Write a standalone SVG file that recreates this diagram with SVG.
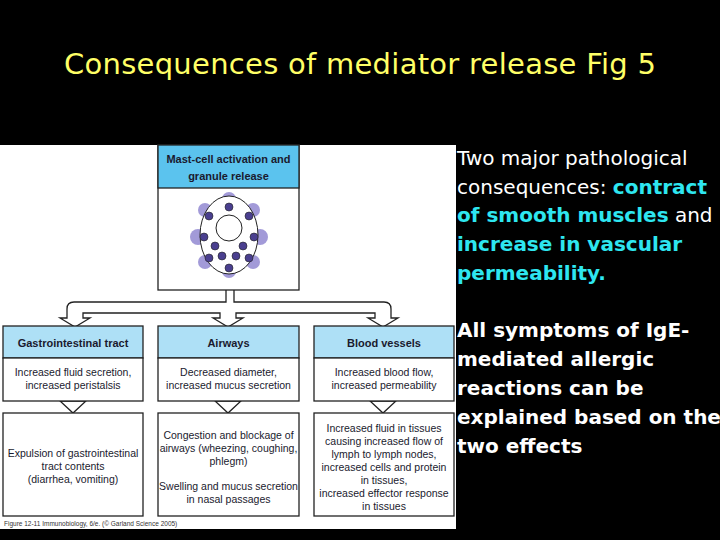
<svg xmlns="http://www.w3.org/2000/svg" width="720" height="540" viewBox="0 0 720 540">
<style>
.bx{fill:#fff;stroke:#222;stroke-width:1.3}
.hd{fill:#5bc3ee;stroke:#222;stroke-width:1.3}
.hl{fill:#aee0f6;stroke:#222;stroke-width:1.3}
.t{font-family:"Liberation Sans",Arial,sans-serif;font-size:10.5px;fill:#1a1a2e;text-anchor:middle}
.h{font-weight:bold;font-size:11px}
.r{font-family:"DejaVu Sans",sans-serif;font-size:20px;fill:#fff}
.c{fill:#2ee6f0;font-weight:bold}
.g{fill:#4a3f8f;stroke:#222;stroke-width:.6}
.halo{fill:#7a6fc8;opacity:.7}
.arr{fill:#fff;stroke:#222;stroke-width:1.3}
</style>
<rect width="720" height="540" fill="#000"/>
<text x="360" y="74" font-family="'DejaVu Sans',sans-serif" font-size="29" fill="#ffff66" text-anchor="middle" textLength="592">Consequences of mediator release Fig 5</text>
<rect x="0" y="145" width="456" height="384" fill="#fff"/>
<g id="connectors">
<path class="arr" d="M226 290 V302 H74 Q67 302 67 309 V318 H60 L75 327 L90 318 H83 V313 H220 V318 H213 L228 327 L243 318 H236 V313 H375 V318 H368 L383 327 L398 318 H391 V309 Q391 302 384 302 H234 V290"/>
<path class="arr" d="M60 401 H86 L73 413 Z"/>
<path class="arr" d="M215 401 H241 L228 413 Z"/>
<path class="arr" d="M370 401 H396 L383 413 Z"/>
</g>
<g id="mast">
<rect class="bx" x="158" y="145" width="141" height="145"/>
<rect class="hd" x="158" y="145" width="141" height="43"/>
<text class="t h" x="228.5" y="163">Mast-cell activation and</text>
<text class="t h" x="228.5" y="180">granule release</text>
<circle class="halo" cx="229" cy="199" r="7"/><circle class="halo" cx="205" cy="210" r="7"/><circle class="halo" cx="253" cy="210" r="7"/>
<circle class="halo" cx="198" cy="237" r="8"/><circle class="halo" cx="260" cy="237" r="8"/><circle class="halo" cx="205" cy="262" r="7"/>
<circle class="halo" cx="253" cy="262" r="7"/><circle class="halo" cx="229" cy="271" r="7"/>
<ellipse cx="229" cy="235" rx="29" ry="39" fill="#fff" stroke="#222" stroke-width="1"/>
<circle cx="229" cy="228" r="13" fill="#fff" stroke="#222" stroke-width="1"/>
<circle class="g" cx="229" cy="207" r="4"/><circle class="g" cx="209" cy="216" r="4"/><circle class="g" cx="249" cy="216" r="4"/>
<circle class="g" cx="204" cy="237" r="4"/><circle class="g" cx="254" cy="237" r="4"/><circle class="g" cx="209" cy="258" r="4"/>
<circle class="g" cx="249" cy="258" r="4"/><circle class="g" cx="229" cy="268" r="4"/>
<circle class="g" cx="215" cy="246" r="4"/><circle class="g" cx="243" cy="246" r="4"/><circle class="g" cx="222" cy="256" r="4"/><circle class="g" cx="236" cy="256" r="4"/>
</g>
<g id="gi">
<rect class="hl" x="3" y="326" width="140" height="32"/>
<text class="t h" x="73" y="347">Gastrointestinal tract</text>
<rect class="bx" x="3" y="358" width="140" height="43"/>
<text class="t" x="73" y="376">Increased fluid secretion,</text>
<text class="t" x="73" y="389">increased peristalsis</text>
<rect class="bx" x="3" y="413" width="140" height="103"/>
<text class="t" x="73" y="457">Expulsion of gastrointestinal</text>
<text class="t" x="73" y="470">tract contents</text>
<text class="t" x="73" y="483">(diarrhea, vomiting)</text>
</g>
<g id="airways">
<rect class="hl" x="158" y="326" width="141" height="32"/>
<text class="t h" x="228.5" y="347">Airways</text>
<rect class="bx" x="158" y="358" width="141" height="43"/>
<text class="t" x="228.5" y="376">Decreased diameter,</text>
<text class="t" x="228.5" y="389">increased mucus secretion</text>
<rect class="bx" x="158" y="413" width="141" height="103"/>
<text class="t" x="228.5" y="439">Congestion and blockage of</text>
<text class="t" x="228.5" y="452">airways (wheezing, coughing,</text>
<text class="t" x="228.5" y="465">phlegm)</text>
<text class="t" x="228.5" y="490">Swelling and mucus secretion</text>
<text class="t" x="228.5" y="503">in nasal passages</text>
</g>
<g id="blood">
<rect class="hl" x="314" y="326" width="140" height="32"/>
<text class="t h" x="384" y="347">Blood vessels</text>
<rect class="bx" x="314" y="358" width="140" height="43"/>
<text class="t" x="384" y="376">Increased blood flow,</text>
<text class="t" x="384" y="389">increased permeability</text>
<rect class="bx" x="314" y="413" width="140" height="103"/>
<text class="t" x="384" y="432">Increased fluid in tissues</text>
<text class="t" x="384" y="445">causing increased flow of</text>
<text class="t" x="384" y="458">lymph to lymph nodes,</text>
<text class="t" x="384" y="471">increased cells and protein</text>
<text class="t" x="384" y="484">in tissues,</text>
<text class="t" x="384" y="497">increased effector response</text>
<text class="t" x="384" y="510">in tissues</text>
</g>
<text x="4" y="526" font-family="Liberation Sans,sans-serif" font-size="6.5" fill="#333">Figure 12-11 Immunobiology, 6/e. (© Garland Science 2005)</text>
<g class="r">
<text x="457" y="165">Two major pathological</text>
<text x="457" y="194">consequences: <tspan class="c">contract</tspan></text>
<text x="457" y="222"><tspan class="c">of smooth muscles</tspan> and</text>
<text x="457" y="251" class="c">increase in vascular</text>
<text x="457" y="280" class="c">permeability.</text>
<text x="457" y="337" font-weight="bold">All symptoms of IgE-</text>
<text x="457" y="366" font-weight="bold">mediated allergic</text>
<text x="457" y="395" font-weight="bold">reactions can be</text>
<text x="457" y="424" font-weight="bold">explained based on the</text>
<text x="457" y="453" font-weight="bold">two effects</text>
</g>
</svg>
